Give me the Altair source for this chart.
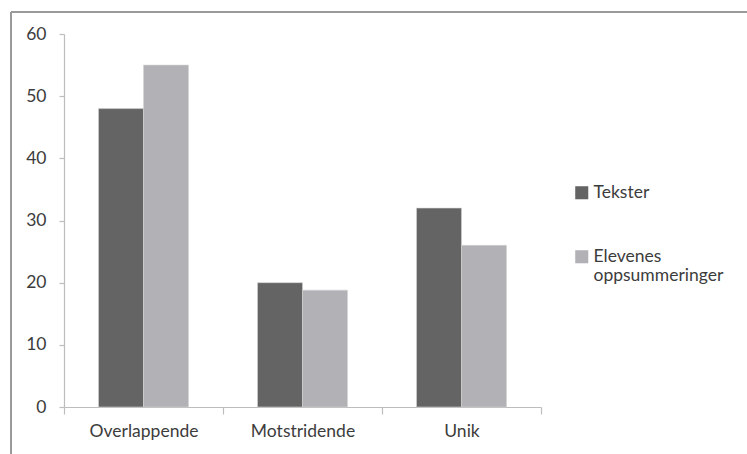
import altair as alt
import pandas as pd

categories = ["Overlappende", "Motstridende", "Unik"]
series = ["Tekster", "Elevenes oppsummeringer"]
tekster = [48, 20, 32]
elevenes = [55, 18.8, 26]
y_ticks = [0, 10, 20, 30, 40, 50, 60]
colors = ["#646464", "#b2b2b6"]

rows = []
for c, a, b in zip(categories, tekster, elevenes):
    rows.append({"kategori": c, "serie": series[0], "verdi": a})
    rows.append({"kategori": c, "serie": series[1], "verdi": b})
df = pd.DataFrame(rows)

FONT = "Lato"
TXT = "#3c3c3c"
FS = 17.5

bars = alt.Chart(df).mark_bar(stroke="#d4d4d4", strokeWidth=0.6).encode(
    x=alt.X("kategori:N", sort=categories, title=None,
            scale=alt.Scale(paddingInner=0, paddingOuter=0),
            axis=alt.Axis(labelAngle=0, tickBand="extent", tickSize=7,
                          labelPadding=8, labelFontSize=FS, labelFont=FONT,
                          labelColor=TXT, domainColor="#bdbdbd", tickColor="#bdbdbd",
                          domainWidth=1.2, tickWidth=1.2, grid=False)),
    xOffset=alt.XOffset("serie:N", sort=series,
                        scale=alt.Scale(paddingInner=0, paddingOuter=0.767)),
    y=alt.Y("verdi:Q", title=None,
            scale=alt.Scale(domain=[0, 60], nice=False),
            axis=alt.Axis(values=y_ticks, grid=False, tickSize=5, labelPadding=13,
                          labelFontSize=FS, labelFont=FONT, labelColor=TXT,
                          domainColor="#bdbdbd", tickColor="#bdbdbd",
                          domainWidth=1.2, tickWidth=1.2)),
    color=alt.Color("serie:N", sort=series, title=None,
                    scale=alt.Scale(domain=series, range=colors),
                    legend=alt.Legend(orient="none", legendX=509, legendY=150,
                                      symbolType="square", symbolSize=170,
                                      symbolStrokeWidth=0, labelFontSize=FS,
                                      labelFont=FONT, labelColor=TXT, labelOffset=3,
                                      rowPadding=45, labelBaseline="middle",
                                      labelExpr="datum.label == 'Elevenes oppsummeringer' ? ['Elevenes', 'oppsummeringer'] : datum.label")),
)

frame_top = alt.Chart(df).mark_rule(color="#9a9a9a", strokeWidth=1.6).encode(
    x=alt.value(-53), x2=alt.value(700), y=alt.value(-22)
)
frame_left = alt.Chart(df).mark_rule(color="#9a9a9a", strokeWidth=1.6).encode(
    x=alt.value(-53), y=alt.value(-22), y2=alt.value(430)
)

chart = alt.layer(frame_top, frame_left, bars).properties(
    width=477, height=373,
    background="white",
    autosize=alt.AutoSizeParams(type="none"),
    padding={"left": 64, "top": 34, "right": 206, "bottom": 47},
).configure_view(strokeWidth=0, stroke="transparent")

chart.save("out.html", embed_options={"renderer": "svg", "actions": False})
